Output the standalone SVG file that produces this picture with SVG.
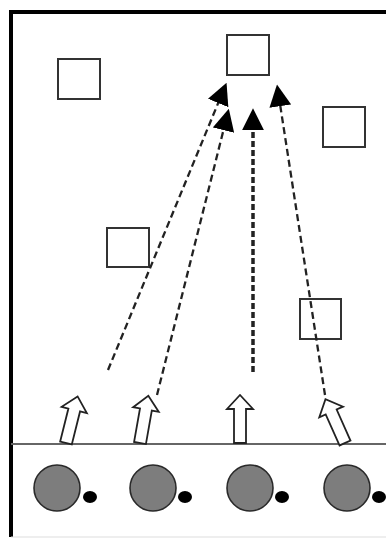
<svg xmlns="http://www.w3.org/2000/svg" width="386" height="539" viewBox="0 0 386 539">
<style>
.box{fill:none;stroke:#333;stroke-width:2}
.dash{fill:none;stroke:#222;stroke-width:2.3;stroke-dasharray:7 4}
.thick{stroke-width:3.5;stroke-dasharray:6 3}
.blk{fill:#fff;stroke:#222;stroke-width:1.8;stroke-linejoin:miter}
.cell{fill:#7d7d7d;stroke:#2a2a2a;stroke-width:1.6}
.dot{fill:#000}
</style>
<defs>
<marker id="ah" markerUnits="userSpaceOnUse" markerWidth="22" markerHeight="22" viewBox="0 0 20 20" refX="2" refY="10" orient="auto">
<path d="M0,0 L20,10 L0,20 Z" fill="#000"/>
</marker>
<path id="blkarrow" d="M-6,0 L-6,-34 L-13,-34 L0,-48 L13,-34 L6,-34 L6,0 Z"/>
</defs>
<rect x="0" y="0" width="386" height="539" fill="#fff"/>
<g id="frame">
<line x1="9" y1="12" x2="386" y2="12" stroke="#000" stroke-width="4"/>
<line x1="11" y1="10" x2="11" y2="537" stroke="#000" stroke-width="4"/>
<line x1="11" y1="444" x2="386" y2="444" stroke="#666" stroke-width="2"/>
<line x1="11" y1="537" x2="386" y2="537" stroke="#ddd" stroke-width="1"/>
</g>
<g id="box1"><rect class="box" x="58" y="59" width="42" height="40"/></g>
<g id="box2"><rect class="box" x="227" y="35" width="42" height="40"/></g>
<g id="box3"><rect class="box" x="323" y="107" width="42" height="40"/></g>
<g id="box4"><rect class="box" x="107" y="228" width="42" height="39"/></g>
<g id="box5"><rect class="box" x="300" y="299" width="41" height="40"/></g>
<g id="connectors">
<line class="dash" x1="108" y1="370" x2="219" y2="101" marker-end="url(#ah)"/>
<line class="dash" x1="157" y1="395" x2="224" y2="128" marker-end="url(#ah)"/>
<line class="dash thick" x1="253" y1="372" x2="253" y2="128" marker-end="url(#ah)"/>
<line class="dash" x1="325" y1="395" x2="280" y2="104" marker-end="url(#ah)"/>
</g>
<g id="arrow1"><use href="#blkarrow" class="blk" transform="translate(66,443) rotate(14)"/></g>
<g id="arrow2"><use href="#blkarrow" class="blk" transform="translate(140,443) rotate(10)"/></g>
<g id="arrow3"><use href="#blkarrow" class="blk" transform="translate(240,443)"/></g>
<g id="arrow4"><use href="#blkarrow" class="blk" transform="translate(345,443) rotate(-24)"/></g>
<g id="cell1"><circle class="cell" cx="57" cy="488" r="23"/><ellipse class="dot" cx="90" cy="497" rx="7" ry="6"/></g>
<g id="cell2"><circle class="cell" cx="153" cy="488" r="23"/><ellipse class="dot" cx="185" cy="497" rx="7" ry="6"/></g>
<g id="cell3"><circle class="cell" cx="250" cy="488" r="23"/><ellipse class="dot" cx="282" cy="497" rx="7" ry="6"/></g>
<g id="cell4"><circle class="cell" cx="347" cy="488" r="23"/><ellipse class="dot" cx="379" cy="497" rx="7" ry="6"/></g>
</svg>
